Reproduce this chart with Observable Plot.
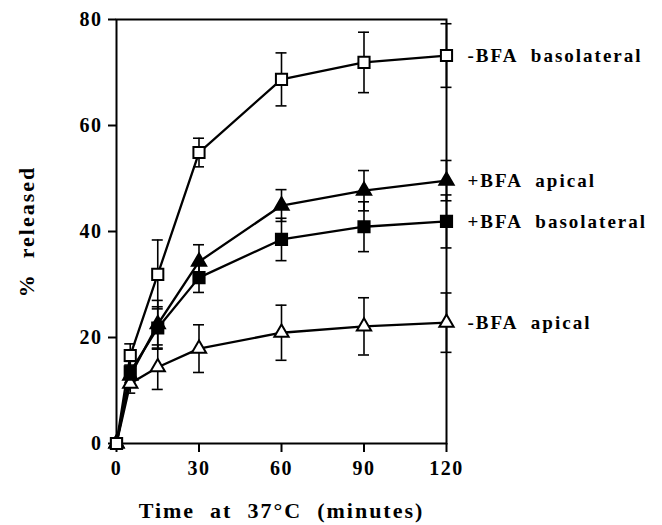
<!DOCTYPE html>
<html>
<head>
<meta charset="utf-8">
<script src="https://cdn.jsdelivr.net/npm/d3@7"></script>
<script src="https://cdn.jsdelivr.net/npm/@observablehq/plot@0.6"></script>
<style>
  html, body { margin: 0; padding: 0; background: white; }
  #chart svg text { font-family: "Liberation Serif", "Times New Roman", serif !important; font-weight: bold; }
</style>
</head>
<body>
<div id="chart"></div>
<script>
// Data
const times = [0, 5, 15, 30, 60, 90, 120];
const seriesNames = ["-BFA  basolateral", "+BFA  apical", "+BFA  basolateral", "-BFA  apical"];
const minusBaso      = [0, 16.6, 31.9, 54.9, 68.7, 71.9, 73.2];
const minusBasoErr   = [0, 2.2, 6.5, 2.7, 5.0, 5.7, 6.0];
const plusApical     = [0, 12.8, 22.5, 34.3, 44.9, 47.7, 49.6];
const plusApicalErr  = [0, 2.0, 4.5, 3.2, 3.0, 3.8, 3.8];
const plusBaso       = [0, 13.5, 21.8, 31.3, 38.5, 40.9, 41.9];
const plusBasoErr    = [0, 2.0, 4.0, 2.8, 4.0, 4.7, 5.0];
const minusApical    = [0, 11.3, 14.4, 17.9, 20.9, 22.1, 22.8];
const minusApicalErr = [0, 1.8, 4.2, 4.5, 5.2, 5.4, 5.6];
const yTicks = [0, 20, 40, 60, 80];
const xTicks = [0, 30, 60, 90, 120];
const xTitle = "Time  at  37\u00b0C  (minutes)";
const yTitle = "%  released";

const values = [minusBaso, plusApical, plusBaso, minusApical];
const errs = [minusBasoErr, plusApicalErr, plusBasoErr, minusApicalErr];
const symbols = ["square", "triangle", "square", "triangle"];
const fills = ["white", "black", "black", "white"];
const radii = [6.3, 5.3, 6.3, 5.3];

const rows = [];
seriesNames.forEach((name, i) => {
  times.forEach((t, j) => rows.push({series: name, idx: i, t, v: values[i][j], e: errs[i][j]}));
});
const errRows = rows.filter(d => d.e > 0);
const lastRows = rows.filter(d => d.t === times[times.length - 1]);

const capHalf = 2; // minutes
const dotMarks = [3, 1, 2, 0].map(i =>
  Plot.dot(rows.filter(d => d.idx === i), {
    x: "t", y: "v", symbol: () => symbols[i], r: radii[i],
    fill: fills[i], stroke: "black", strokeWidth: 2
  })
);

const serif = '"Liberation Serif", "Times New Roman", serif';
const chart = Plot.plot({
  width: 662,
  height: 525,
  marginLeft: 116,
  marginRight: 216,
  marginTop: 19,
  marginBottom: 82,
  style: {fontFamily: serif, fontWeight: "bold", fontSize: "20px", color: "black", background: "white", letterSpacing: "1.5px"},
  x: {domain: [0, 120]},
  y: {domain: [0, 80]},
  symbol: {type: "identity"},
  marks: [
    Plot.frame({stroke: "black", strokeWidth: 2}),
    Plot.axisY({ticks: yTicks, tickSize: 8, tickPadding: 6, label: null, fontSize: 20, strokeWidth: 2}),
    Plot.axisX({ticks: xTicks, tickSize: 9, tickPadding: 8, label: null, fontSize: 20, strokeWidth: 2}),
    Plot.line(rows, {x: "t", y: "v", z: "series", stroke: "black", strokeWidth: 2.3}),
    Plot.ruleX(errRows, {x: "t", y1: d => d.v - d.e, y2: d => d.v + d.e, stroke: "black", strokeWidth: 1.6}),
    Plot.ruleY(errRows, {y: d => d.v + d.e, x1: d => d.t - capHalf, x2: d => d.t + capHalf, stroke: "black", strokeWidth: 1.6}),
    Plot.ruleY(errRows, {y: d => d.v - d.e, x1: d => d.t - capHalf, x2: d => d.t + capHalf, stroke: "black", strokeWidth: 1.6}),
    ...dotMarks,
    Plot.text(lastRows, {x: "t", y: "v", text: "series", dx: 21, textAnchor: "start", fontSize: 19, fill: "black", fontFamily: serif, style: {letterSpacing: "2px"}}),
    Plot.text([xTitle], {frameAnchor: "bottom", text: d => d, dy: 67, lineAnchor: "middle", textAnchor: "middle", fontSize: 22, fill: "black", fontFamily: serif}),
    Plot.text([yTitle], {frameAnchor: "left", text: d => d, dx: -90, rotate: -90, textAnchor: "middle", lineAnchor: "middle", fontSize: 22, fill: "black", fontFamily: serif})
  ]
});
// per-mark letter spacing tweaks
const textGroups = chart.querySelectorAll('g[aria-label="text"]');
if (textGroups[0]) textGroups[0].setAttribute("letter-spacing", "2");
if (textGroups[1]) textGroups[1].setAttribute("letter-spacing", "2");
if (textGroups[2]) textGroups[2].setAttribute("letter-spacing", "2");
document.getElementById("chart").appendChild(chart);
</script>
</body>
</html>
